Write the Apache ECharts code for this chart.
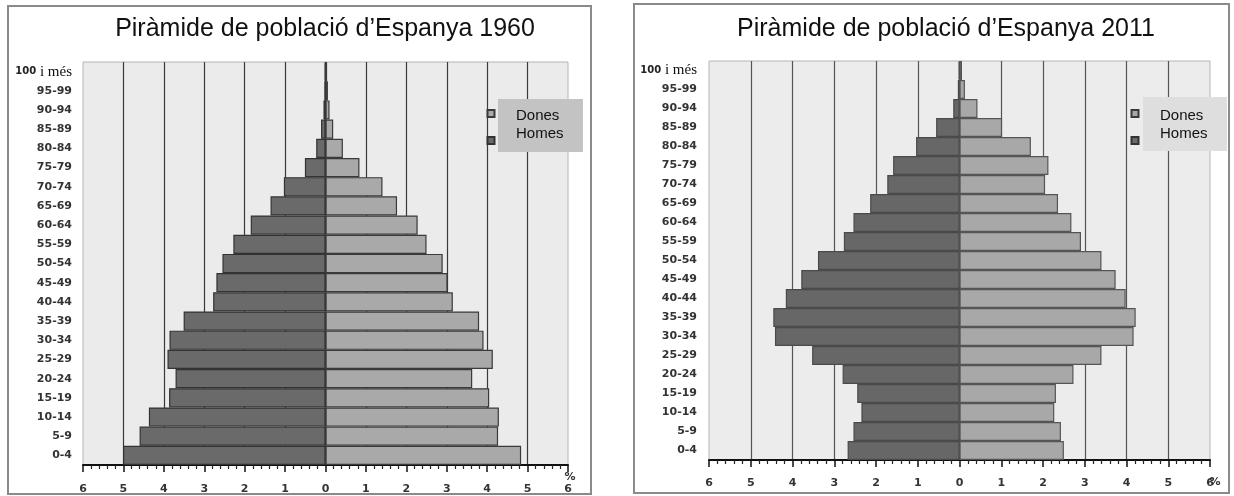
<!DOCTYPE html>
<html>
<head>
<meta charset="utf-8">
<style>
html,body{margin:0;padding:0;background:#fff;}
#chart{width:1234px;height:496px;}
</style>
<script src="https://cdn.jsdelivr.net/npm/echarts@6/dist/echarts.min.js"></script>
</head>
<body>
<div id="chart"></div>
<script>
// Age groups, bottom to top
const ageGroups = ['0-4','5-9','10-14','15-19','20-24','25-29','30-34','35-39','40-44','45-49','50-54','55-59','60-64','65-69','70-74','75-79','80-84','85-89','90-94','95-99','100 i més'];

// Percent of population, 1960
const homes1960 = [5.01,4.60,4.37,3.87,3.71,3.91,3.86,3.51,2.78,2.70,2.55,2.28,1.85,1.36,1.03,0.51,0.23,0.11,0.05,0.03,0.02];
const dones1960 = [4.84,4.27,4.29,4.05,3.63,4.14,3.91,3.80,3.15,3.02,2.90,2.50,2.28,1.77,1.41,0.84,0.43,0.19,0.10,0.06,0.04];

// Percent of population, 2011
const homes2011 = [2.68,2.54,2.35,2.45,2.80,3.53,4.42,4.46,4.16,3.79,3.39,2.77,2.54,2.14,1.73,1.59,1.04,0.56,0.15,0.04,0.02];
const dones2011 = [2.50,2.43,2.27,2.31,2.73,3.40,4.17,4.22,3.98,3.74,3.40,2.91,2.68,2.36,2.05,2.13,1.71,1.02,0.43,0.13,0.06];

const titles = ['Piràmide de població d’Espanya 1960', 'Piràmide de població d’Espanya 2011'];
const legendNames = ['Dones', 'Homes'];
const axisUnit = '%';

const HOMES_COLOR = '#6a6a6a';
const DONES_COLOR = '#a9a9a9';

const chart = echarts.init(document.getElementById('chart'), null, {renderer: 'canvas'});

function yAxisFor(gridIndex, margin) {
  return {
    type: 'category', gridIndex: gridIndex, data: ageGroups,
    axisLine: {show: false}, axisTick: {show: false},
    axisLabel: {
      margin: margin,
      fontFamily: 'DejaVu Sans', fontWeight: 'bold', fontSize: 11, color: '#333',
      formatter: function (v) { return v === '100 i més' ? '{a|100}{b| i més}' : v; },
      rich: {
        a: {fontFamily: 'DejaVu Sans', fontWeight: 'bold', fontSize: 10, color: '#222'},
        b: {fontFamily: 'Liberation Serif', fontWeight: 'normal', fontSize: 15, color: '#111'}
      }
    },
    splitLine: {show: false}
  };
}

function xAxisFor(gridIndex, labelMargin, nameGap, nameLineHeight, splitColor) {
  return {
    type: 'value', gridIndex: gridIndex, min: -6, max: 6, interval: 1,
    name: '\n' + axisUnit, nameLocation: 'end', nameGap: nameGap, nameMoveOverlap: false,
    nameTextStyle: {fontFamily: 'DejaVu Sans', fontWeight: 'bold', fontSize: 11, color: '#333', align: 'center', lineHeight: nameLineHeight},
    axisLine: {show: true, onZero: false, lineStyle: {color: '#111', width: 2}},
    axisTick: {show: true, length: 7, lineStyle: {color: '#111', width: 1.5}},
    minorTick: {show: true, splitNumber: 5, length: 4, lineStyle: {color: '#222', width: 1.2}},
    axisLabel: {
      margin: labelMargin, fontFamily: 'DejaVu Sans', fontWeight: 'bold', fontSize: 11, color: '#333',
      formatter: function (v) { return String(Math.abs(v)); }
    },
    splitLine: {show: true, showMinLine: false, showMaxLine: false, lineStyle: {color: splitColor, width: 1.2}}
  };
}

function barSeries(name, data, gridIdx, negative, color, borderColor) {
  return {
    type: 'bar', name: name, xAxisIndex: gridIdx, yAxisIndex: gridIdx,
    stack: 'pyr' + gridIdx, barCategoryGap: '0%',
    data: data.map(function (v) { return negative ? -v : v; }),
    itemStyle: {color: color, borderColor: borderColor, borderWidth: 1.2},
    emphasis: {disabled: true}
  };
}

function iconLegend(left) {
  return {
    data: legendNames, orient: 'vertical', left: left, top: 109, padding: 0,
    icon: 'rect', itemWidth: 7, itemHeight: 7, itemGap: 18,
    formatter: function () { return ''; },
    textStyle: {fontSize: 7, lineHeight: 7},
    selectedMode: false, z: 10
  };
}

function textLegend(left) {
  return {
    data: legendNames, orient: 'vertical', left: left, top: 107, padding: 0,
    icon: 'rect', itemWidth: 0, itemHeight: 0, itemGap: 0,
    itemStyle: {opacity: 0},
    textStyle: {fontFamily: 'Liberation Sans', fontSize: 15, lineHeight: 18, color: '#111', padding: [0,0,0,0]},
    selectedMode: false, z: 10
  };
}

const titleStyle = {fontFamily: 'Liberation Sans', fontSize: 25, fontWeight: 'normal', color: '#111'};

const option = {
  animation: false,
  backgroundColor: '#ffffff',
  title: [
    {text: titles[0], left: 325, textAlign: 'center', top: 17, padding: 0, textStyle: titleStyle},
    {text: titles[1], left: 946, textAlign: 'center', top: 17, padding: 0, textStyle: titleStyle}
  ],
  grid: [
    {left: 83, top: 62, width: 485, height: 403, show: true, backgroundColor: '#ebebeb', borderColor: '#b5b5b5', borderWidth: 1, outerBoundsMode: 'none', containLabel: false},
    {left: 709, top: 61, width: 501, height: 399, show: true, backgroundColor: '#ececec', borderColor: '#b5b5b5', borderWidth: 1, outerBoundsMode: 'none', containLabel: false}
  ],
  xAxis: [
    xAxisFor(0, 19, 2, 24, '#3a3a3a'),
    xAxisFor(1, 18, 5, 44, '#555555')
  ],
  yAxis: [
    yAxisFor(0, 11),
    yAxisFor(1, 12)
  ],
  legend: [
    iconLegend(486.5), textLegend(510),
    iconLegend(1130.5), textLegend(1154)
  ],
  graphic: [
    {type: 'rect', shape: {x: 8, y: 6, width: 583, height: 488}, style: {fill: null, stroke: '#8a8a8a', lineWidth: 2}, z: 1, silent: true},
    {type: 'rect', shape: {x: 634, y: 4, width: 595, height: 489}, style: {fill: null, stroke: '#8a8a8a', lineWidth: 2}, z: 1, silent: true},
    {type: 'rect', shape: {x: 498, y: 99, width: 85, height: 53}, style: {fill: '#c3c3c3'}, z: 5, silent: true},
    {type: 'rect', shape: {x: 1143, y: 97, width: 84, height: 54}, style: {fill: '#dedede'}, z: 5, silent: true}
  ],
  series: [
    barSeries('Homes', homes1960, 0, true, HOMES_COLOR, '#333333'),
    barSeries('Dones', dones1960, 0, false, DONES_COLOR, '#3a3a3a'),
    barSeries('Homes', homes2011, 1, true, '#676767', '#4a4a4a'),
    barSeries('Dones', dones2011, 1, false, '#a8a8a8', '#555555')
  ]
};

chart.setOption(option);
</script>
</body>
</html>
